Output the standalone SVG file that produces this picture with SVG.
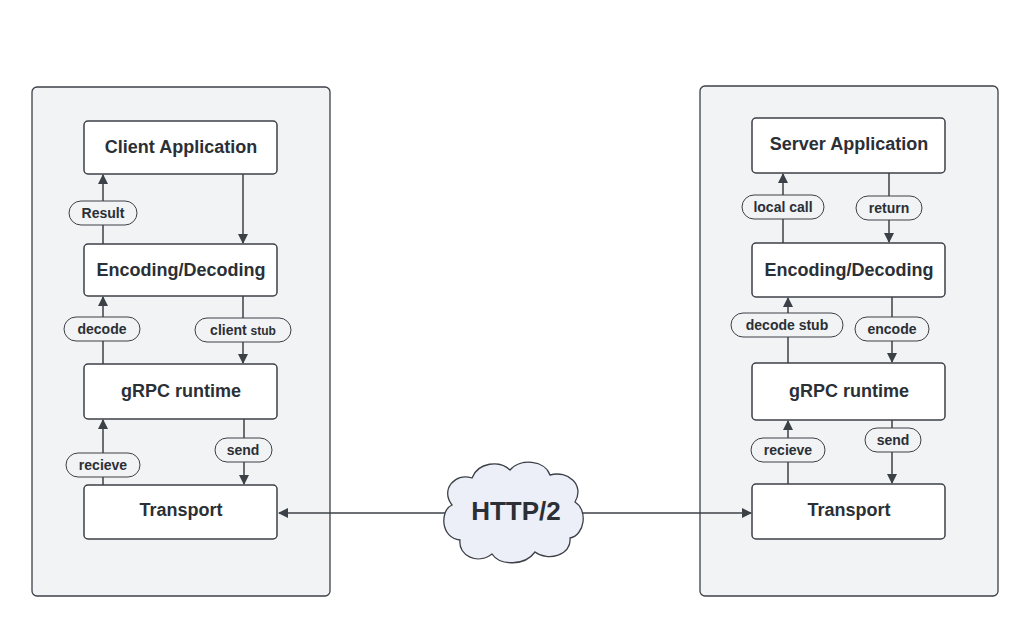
<svg xmlns="http://www.w3.org/2000/svg" width="1034" height="631" viewBox="0 0 1034 631">
<style>
.panel{fill:#f1f3f4;stroke:#3c4047;stroke-width:1.3}
.node{fill:#fff;stroke:#3c4047;stroke-width:1.5}
.nt{font-family:"Liberation Sans",Arial,sans-serif;font-weight:bold;font-size:18px;fill:#2b2f36;text-anchor:middle}
.pill{fill:#f1f3f4;stroke:#3c4047;stroke-width:1}
.pt{font-family:"Liberation Sans",Arial,sans-serif;font-weight:bold;font-size:14px;fill:#2b2f36;text-anchor:middle}
.c{stroke:#3c4047;stroke-width:1.5;fill:none}
</style>
<defs>
<marker id="a" viewBox="0 0 10 10" refX="9" refY="5" markerWidth="10" markerHeight="10" markerUnits="userSpaceOnUse" orient="auto"><path d="M0,0 L10,5 L0,10 z" fill="#3c4047"/></marker>
</defs>
<rect width="1034" height="631" fill="#fff"/>
<rect class="panel" x="32" y="87" width="298" height="509" rx="5"/>
<rect class="panel" x="700" y="86" width="298" height="510" rx="5"/>
<g id="connectors">
<line class="c" x1="103" y1="244" x2="103" y2="175" marker-end="url(#a)"/>
<line class="c" x1="243" y1="174" x2="243" y2="243" marker-end="url(#a)" stroke="#777" stroke-width="1"/>
<line class="c" x1="103" y1="364" x2="103" y2="297" marker-end="url(#a)"/>
<line class="c" x1="243" y1="296" x2="243" y2="363" marker-end="url(#a)"/>
<line class="c" x1="103" y1="485" x2="103" y2="420" marker-end="url(#a)"/>
<line class="c" x1="244" y1="419" x2="244" y2="484" marker-end="url(#a)"/>
<line class="c" x1="783" y1="243" x2="783" y2="174" marker-end="url(#a)"/>
<line class="c" x1="889" y1="173" x2="889" y2="242" marker-end="url(#a)"/>
<line class="c" x1="788" y1="363" x2="788" y2="298" marker-end="url(#a)"/>
<line class="c" x1="892" y1="297" x2="892" y2="362" marker-end="url(#a)"/>
<line class="c" x1="788" y1="484" x2="788" y2="421" marker-end="url(#a)"/>
<line class="c" x1="892" y1="420" x2="892" y2="483" marker-end="url(#a)"/>
<line class="c" x1="447" y1="513" x2="279" y2="513" marker-end="url(#a)"/>
<line class="c" x1="581" y1="513" x2="751" y2="513" marker-end="url(#a)"/>
<g id="labels">
<rect class="pill" x="69" y="201" width="68" height="24" rx="12"/><text class="pt" x="103" y="218">Result</text>
<rect class="pill" x="64" y="317" width="76" height="24" rx="12"/><text class="pt" x="102" y="334">decode</text>
<rect class="pill" x="195" y="318" width="96" height="24" rx="12"/><text class="pt" x="243" y="335">client <tspan font-size="12">stub</tspan></text>
<rect class="pill" x="66" y="453" width="74" height="24" rx="12"/><text class="pt" x="103" y="470">recieve</text>
<rect class="pill" x="215" y="438" width="57" height="24" rx="12"/><text class="pt" x="243" y="455">send</text>
<rect class="pill" x="742" y="195" width="82" height="24" rx="12"/><text class="pt" x="783" y="212">local call</text>
<rect class="pill" x="856" y="196" width="66" height="24" rx="12"/><text class="pt" x="889" y="213">return</text>
<rect class="pill" x="731" y="313" width="112" height="24" rx="12"/><text class="pt" x="787" y="330">decode stub</text>
<rect class="pill" x="855" y="317" width="74" height="24" rx="12"/><text class="pt" x="892" y="334">encode</text>
<rect class="pill" x="751" y="438" width="74" height="24" rx="12"/><text class="pt" x="788" y="455">recieve</text>
<rect class="pill" x="865" y="428" width="56" height="24" rx="12"/><text class="pt" x="893" y="445">send</text>
</g>
</g>
<g id="client-app"><rect class="node" x="84" y="121" width="193" height="53" rx="4"/><text class="nt" x="181" y="153">Client Application</text></g>
<g id="client-enc"><rect class="node" x="84" y="244" width="193" height="52" rx="4"/><text class="nt" x="181" y="276">Encoding/Decoding</text></g>
<g id="client-grpc"><rect class="node" x="84" y="364" width="193" height="55" rx="4"/><text class="nt" x="181" y="397">gRPC runtime</text></g>
<g id="client-transport"><rect class="node" x="84" y="485" width="193" height="54" rx="4"/><text class="nt" x="181" y="516">Transport</text></g>
<g id="server-app"><rect class="node" x="752" y="118" width="193" height="55" rx="4"/><text class="nt" x="849" y="150">Server Application</text></g>
<g id="server-enc"><rect class="node" x="752" y="243" width="193" height="54" rx="4"/><text class="nt" x="849" y="276">Encoding/Decoding</text></g>
<g id="server-grpc"><rect class="node" x="752" y="363" width="193" height="57" rx="4"/><text class="nt" x="849" y="397">gRPC runtime</text></g>
<g id="server-transport"><rect class="node" x="752" y="484" width="193" height="55" rx="4"/><text class="nt" x="849" y="516">Transport</text></g>
<g id="http2">
<path d="M460,540 C440,538 440,510 452,505 C440,490 455,472 472,478 C478,462 500,460 510,470 C520,458 545,460 550,475 C568,470 585,485 575,502 C588,510 585,535 570,538 C572,555 548,562 535,552 C525,566 500,566 492,554 C478,565 458,556 460,540 Z" fill="#eceff8" stroke="#3c4047" stroke-width="1.3"/>
<text x="516" y="520" font-family="Liberation Sans,Arial,sans-serif" font-weight="bold" font-size="26" fill="#2b2f36" text-anchor="middle">HTTP/2</text>
</g>
</svg>
